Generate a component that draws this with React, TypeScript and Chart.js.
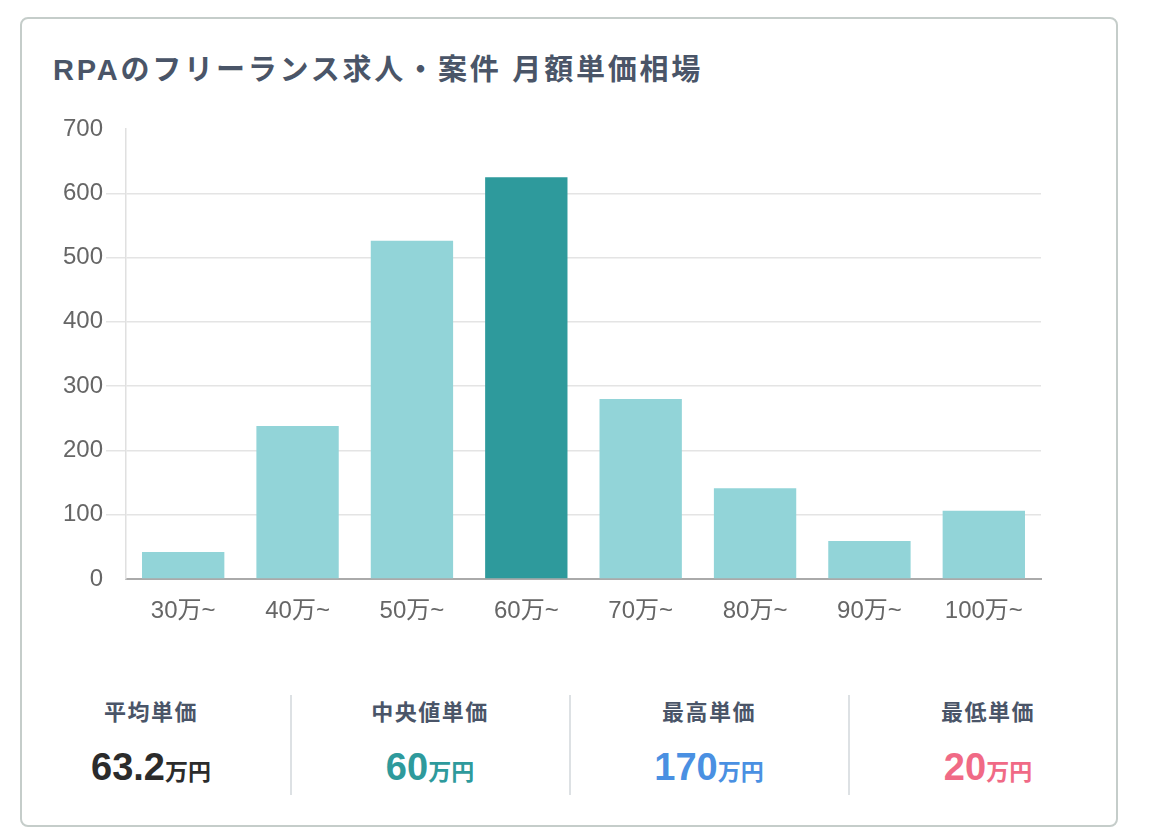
import React, { useEffect, useRef } from "react";
import { Chart, registerables } from "chart.js";

Chart.register(...registerables);

// 月額単価帯ごとの案件数
const categories = ["30万~", "40万~", "50万~", "60万~", "70万~", "80万~", "90万~", "100万~"];
const counts = [42, 238, 526, 625, 280, 141, 59, 106];
const highlightIndex = 3;
const yTicks = { min: 0, max: 700, step: 100 };

// 単価サマリー
const statLabels = ["平均単価", "中央値単価", "最高単価", "最低単価"];
const statValues = ["63.2", "60", "170", "20"];
const statUnit = "万円";
const statColors = ["#2b2b2b", "#2e9a9c", "#4a90e2", "#f06a86"];

const titleText = "RPAのフリーランス求人・案件 月額単価相場";

const FONT = '"Liberation Sans", Arial, "Noto Sans CJK JP", sans-serif';
const BAR_LIGHT = "#92d4d8";
const BAR_DARK = "#2e9a9c";

function PriceChart() {
  const canvasRef = useRef<HTMLCanvasElement | null>(null);

  useEffect(() => {
    const canvas = canvasRef.current;
    if (!canvas) return;
    const chart = new Chart(canvas, {
      type: "bar",
      data: {
        labels: categories,
        datasets: [
          {
            data: counts,
            backgroundColor: counts.map((_, i) => (i === highlightIndex ? BAR_DARK : BAR_LIGHT)),
            borderWidth: 0,
          },
        ],
      },
      options: {
        animation: false,
        responsive: false,
        maintainAspectRatio: false,
        layout: { padding: { top: 19, right: 19, left: 0, bottom: 0 } },
        plugins: {
          legend: { display: false },
          tooltip: { enabled: false },
        },
        scales: {
          x: {
            grid: { display: false, tickLength: 8 },
            border: { display: true, color: "#aaaaaa", width: 2 },
            ticks: {
              color: "#666666",
              padding: 10,
              font: { family: FONT, size: 24 },
            },
            afterFit: (scale: any) => {
              scale.height = 61;
            },
          },
          y: {
            min: yTicks.min,
            max: yTicks.max,
            grid: {
              tickLength: 20,
              lineWidth: 1.5,
              color: (ctx: any) =>
                ctx.tick && (ctx.tick.value === yTicks.min || ctx.tick.value === yTicks.max)
                  ? "rgba(0,0,0,0)"
                  : "#e4e4e4",
            },
            border: { display: true, color: "#e0e0e0", width: 1.5 },
            ticks: {
              stepSize: yTicks.step,
              color: "#666666",
              padding: 3,
              font: { family: FONT, size: 24 },
            },
            afterFit: (scale: any) => {
              scale.width = 86;
            },
          },
        },
      },
    });
    return () => chart.destroy();
  }, []);

  return (
    <canvas
      ref={canvasRef}
      width={1020}
      height={530}
      style={{ position: "absolute", left: 32, top: 102, width: 1020, height: 530 }}
    />
  );
}

export default function App() {
  const colLeft = 3.5;
  const colWidth = 279;
  return (
    <div style={{ position: "relative", width: 1134, height: 823, fontFamily: FONT }}>
      <div
        style={{
          position: "absolute",
          left: 12,
          top: 9,
          width: 1098,
          height: 810,
          boxSizing: "border-box",
          border: "2px solid #c5cdca",
          borderRadius: 8,
          background: "#ffffff",
        }}
      />
      <div
        style={{
          position: "absolute",
          left: 45,
          top: 45,
          fontSize: 29,
          lineHeight: "34px",
          fontWeight: 700,
          letterSpacing: 2.8,
          color: "#4a5568",
          whiteSpace: "nowrap",
        }}
      >
        {titleText}
      </div>
      <PriceChart />
      {statLabels.map((label, i) => (
        <div
          key={label}
          style={{
            position: "absolute",
            left: colLeft + i * colWidth,
            top: 692,
            width: colWidth,
            textAlign: "center",
          }}
        >
          <div
            style={{
              fontSize: 22,
              lineHeight: "26px",
              fontWeight: 700,
              letterSpacing: 1.5,
              color: "#4a5568",
            }}
          >
            {label}
          </div>
          <div style={{ marginTop: 21, lineHeight: "40px", color: statColors[i], fontWeight: 700 }}>
            <span style={{ fontSize: 38 }}>{statValues[i]}</span>
            <span style={{ fontSize: 23 }}>{statUnit}</span>
          </div>
        </div>
      ))}
      {[1, 2, 3].map((k) => (
        <div
          key={k}
          style={{
            position: "absolute",
            left: colLeft + k * colWidth - 1,
            top: 687,
            width: 2,
            height: 100,
            background: "#dde1e4",
          }}
        />
      ))}
    </div>
  );
}
